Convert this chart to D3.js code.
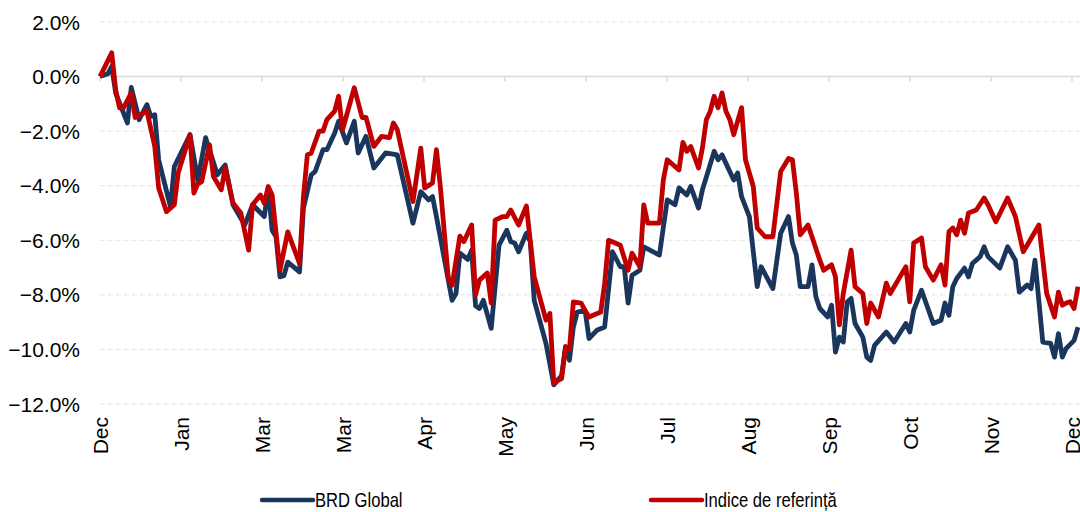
<!DOCTYPE html>
<meta charset="utf-8">
<script src="https://d3js.org/d3.v7.min.js"></script>
<style>
  body { margin: 0; background: #fff; }
  text { font-family: "Liberation Sans", Arial, sans-serif; fill: #000; }
</style>
<div id="chart"></div>
<script>
// month labels on the category axis
const months = ["Dec", "Jan", "Mar", "Mar", "Apr", "May", "Jun", "Jul", "Aug", "Sep", "Oct", "Nov", "Dec"];
const yTicks = [2, 0, -2, -4, -6, -8, -10, -12];

// trading day index (0..250) and performance in %
const brdDays = [0,2,3,4,7,8,10,12,13,14,15,18,19,23,25,27,30,32,34,37,39,42,43,44,45,46,47,48,51,52,54,55,57,58,60,61,63,65,66,68,70,71,73,76,80,82,84,85,86,90,91,92,94,95,96,97,98,100,102,104,105,106,107,109,110,111,114,116,118,119,120,121,122,124,125,127,129,131,133,134,135,136,138,139,143,145,147,148,150,151,153,154,157,158,159,162,163,164,166,167,168,169,172,174,176,177,178,179,181,182,183,184,186,187,188,189,190,191,192,193,195,196,197,198,201,203,206,207,208,210,213,215,216,217,218,219,221,222,223,225,226,227,230,232,234,235,237,238,239,241,243,244,245,246,247,249,250];
const brdValues = [0,0.1,0.37,-0.6,-1.7,-0.4,-1.58,-1.03,-1.46,-1.4,-3.05,-4.77,-3.3,-2.13,-3.79,-2.24,-3.6,-3.24,-4.7,-5.44,-4.7,-5.13,-4.08,-5.63,-5.87,-7.34,-7.3,-6.8,-7.16,-4.82,-3.6,-3.48,-2.68,-2.68,-2.07,-1.64,-2.43,-1.64,-2.8,-2.19,-3.35,-3.17,-2.8,-2.87,-5.37,-4.22,-4.52,-4.4,-5.13,-8.2,-7.95,-6.47,-6.7,-6.36,-8.4,-8.5,-8.2,-9.23,-6.18,-5.63,-6.05,-6.1,-6.42,-5.74,-6.05,-8.2,-9.78,-11.3,-10.96,-9.9,-10.4,-9.18,-8.63,-8.57,-9.6,-9.3,-9.18,-6.42,-6.97,-6.97,-8.3,-7.28,-7.1,-6.24,-6.54,-4.52,-4.7,-4.08,-4.34,-4.03,-4.82,-4.15,-2.74,-3.05,-2.87,-3.79,-3.53,-4.4,-5.13,-6.42,-7.7,-6.97,-7.77,-5.74,-5.13,-6.1,-6.54,-7.7,-7.7,-6.9,-8.07,-8.5,-8.81,-8.38,-10.1,-9.55,-9.73,-8.26,-8.13,-9.05,-9.55,-10.28,-10.4,-9.85,-9.36,-9.73,-9.05,-9.36,-8.57,-7.83,-9.05,-8.93,-8.3,-8.75,-7.7,-7.4,-7.02,-7.34,-6.85,-6.6,-6.24,-6.6,-7.02,-6.24,-6.73,-7.9,-7.64,-7.77,-6.73,-9.73,-9.78,-10.28,-9.42,-10.28,-9.96,-9.67,-9.18];

const idxDays = [0,3,4,5,6,8,9,12,14,15,17,19,20,23,24,25,26,28,29,31,32,34,36,38,39,41,42,43,44,46,48,51,52,53,54,56,57,58,60,61,62,65,67,68,70,72,74,75,76,80,82,83,85,86,87,89,90,92,93,95,96,97,99,100,101,103,104,105,107,109,111,114,115,116,117,118,119,120,121,123,124,125,128,129,130,132,133,135,136,138,139,140,143,144,145,148,149,150,151,153,154,155,156,157,158,159,160,161,162,164,165,167,168,170,172,174,176,177,178,179,181,182,184,185,187,188,189,190,192,193,195,196,197,199,201,202,204,206,207,208,210,211,213,215,216,217,218,219,220,221,222,224,226,227,229,232,234,236,237,240,242,244,245,246,247,248,249,250];
const idxValues = [0,0.87,-0.48,-1.15,-1.15,-0.6,-1.5,-1.27,-2.56,-4.08,-4.95,-4.7,-3.53,-2.13,-4.27,-3.93,-3.85,-2.5,-3.66,-4.15,-3.35,-4.63,-5.0,-6.36,-4.7,-4.34,-4.64,-4.03,-4.34,-7.1,-5.69,-6.85,-4.4,-2.87,-2.8,-2.0,-2.0,-1.58,-1.27,-0.72,-1.95,-0.41,-1.5,-1.5,-2.56,-2.19,-2.24,-1.7,-1.95,-4.58,-2.62,-4.08,-3.9,-2.68,-4.03,-7.34,-7.65,-5.85,-6.05,-5.44,-8.0,-7.46,-7.2,-8.3,-5.26,-5.13,-5.13,-4.89,-5.44,-4.74,-7.34,-8.93,-8.68,-11.25,-11.14,-11.07,-9.9,-10.0,-8.26,-8.3,-8.57,-8.81,-8.63,-7.6,-6.0,-6.12,-6.18,-7.1,-6.47,-6.97,-4.7,-5.37,-5.37,-3.79,-3.05,-3.42,-2.41,-2.74,-2.56,-3.35,-2.61,-1.58,-1.27,-0.72,-1.14,-0.6,-1.27,-1.58,-2.13,-1.14,-3.05,-4.03,-5.55,-5.87,-5.87,-3.48,-3.0,-3.05,-4.27,-5.8,-5.44,-5.87,-6.73,-7.1,-6.9,-7.34,-9.1,-7.95,-6.36,-7.7,-7.95,-9.05,-8.3,-8.81,-7.57,-7.95,-7.46,-6.97,-8.26,-6.1,-5.92,-6.97,-7.46,-6.9,-7.64,-5.69,-5.55,-5.8,-5.26,-5.74,-5.0,-4.89,-4.45,-4.7,-5.32,-4.45,-5.13,-6.42,-6.18,-5.44,-7.95,-8.81,-7.9,-8.38,-8.3,-8.25,-8.5,-7.7];

const seriesNames = ["BRD Global", "Indice de referință"];
const seriesColors = ["#1b365d", "#c00000"];

const width = 1080, height = 512;
const svg = d3.select("#chart").append("svg")
  .attr("width", width).attr("height", height);

const x = d3.scaleLinear().domain([0, 250]).range([100, 1078]);
const y = d3.scaleLinear().domain([-12, 2]).range([404, 22]);
const xm = d3.scalePoint().domain(d3.range(months.length)).range([100, 1072]);

// gridlines
svg.append("g")
  .selectAll("line")
  .data(yTicks.filter(t => t !== 0))
  .join("line")
    .attr("x1", 100).attr("x2", 1080)
    .attr("y1", d => y(d)).attr("y2", d => y(d))
    .attr("stroke", "#e3e3e3")
    .attr("stroke-width", 1)
    .attr("stroke-dasharray", "5,3");

// y labels
svg.append("g")
  .selectAll("text")
  .data(yTicks)
  .join("text")
    .attr("x", 80)
    .attr("y", d => y(d))
    .attr("dy", "0.36em")
    .attr("text-anchor", "end")
    .style("font-size", "21px")
    .text(d => d3.format(".1f")(d) + "%");

// zero line with month ticks
svg.append("line")
  .attr("x1", 100).attr("x2", 1080)
  .attr("y1", y(0)).attr("y2", y(0))
  .attr("stroke", "#d9d9d9").attr("stroke-width", 1.5);
svg.append("g")
  .selectAll("line")
  .data(d3.range(months.length))
  .join("line")
    .attr("x1", d => xm(d)).attr("x2", d => xm(d))
    .attr("y1", y(0)).attr("y2", y(0) + 5)
    .attr("stroke", "#d9d9d9").attr("stroke-width", 1.5);

// month labels, rotated
svg.append("g")
  .selectAll("text")
  .data(months)
  .join("text")
    .attr("transform", (d, i) => `translate(${xm(i)},${y(-12) + 13}) rotate(-90)`)
    .attr("dy", "0.36em")
    .attr("text-anchor", "end")
    .style("font-size", "21px")
    .text(d => d);

// lines
const line = d3.line().x(d => x(d[0])).y(d => y(d[1]));
const series = [d3.zip(brdDays, brdValues), d3.zip(idxDays, idxValues)];
svg.append("g")
  .selectAll("path")
  .data(series)
  .join("path")
    .attr("fill", "none")
    .attr("stroke", (d, i) => seriesColors[i])
    .attr("stroke-width", 4.8)
    .attr("stroke-linejoin", "round")
    .attr("d", line);

// legend
const legendX = [262, 651];
const lg = svg.append("g")
  .selectAll("g")
  .data(seriesNames)
  .join("g")
    .attr("transform", (d, i) => `translate(${legendX[i]},500)`);
lg.append("line")
  .attr("x1", 0).attr("x2", 51)
  .attr("stroke", (d, i) => seriesColors[i])
  .attr("stroke-width", 4.5)
  .attr("stroke-linecap", "round");
// narrow look of the legend font
lg.append("text")
  .attr("transform", "translate(53,0) scale(0.83,1)")
  .attr("dy", "0.36em")
  .style("font-size", "20px")
  .text(d => d);
</script>
